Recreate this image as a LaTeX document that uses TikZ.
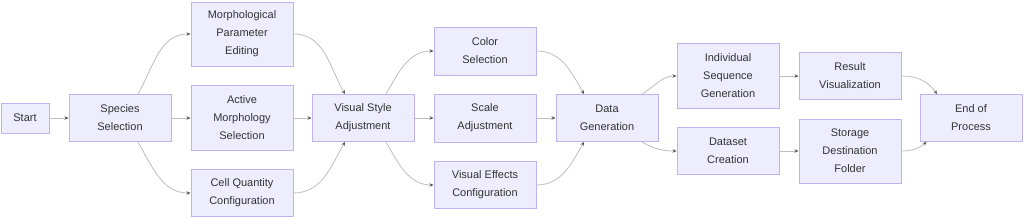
\documentclass[tikz,border=0pt]{standalone}
\usepackage{fontspec}
\setmainfont{Liberation Sans}
\usetikzlibrary{calc, positioning}
\usetikzlibrary{arrows.meta}

\definecolor{boxfill}{HTML}{EEEDFD}
\definecolor{boxline}{HTML}{BFB2EE}
\definecolor{flowline}{HTML}{BDBDBD}
\definecolor{tipcol}{HTML}{555555}
\definecolor{txtcol}{HTML}{333333}

\tikzset{
  stage/.style={draw=boxline, fill=boxfill, line width=0.9pt, text=txtcol,
    minimum width=102pt, align=center, inner sep=0pt,
    font=\fontsize{11}{18}\selectfont},
  flow/.style={draw=flowline, line width=0.8pt,
    -{Stealth[length=4pt,width=3.5pt,color=tipcol]}},
}

\begin{document}
\begin{tikzpicture}[x=1pt,y=-1pt]
\useasboundingbox (0,0) rectangle (1024,219);
% nodes
\node[stage, minimum width=48pt, minimum height=30pt] (start) at (25,118) {Start};
\node[stage, minimum height=47pt] (species) at (120,118) {Species\\Selection};
\node[stage, minimum height=64pt] (morph) at (242,34) {Morphological\\Parameter\\Editing};
\node[stage, minimum height=65pt] (active) at (242,118) {Active\\Morphology\\Selection};
\node[stage, minimum height=47pt] (cells) at (242,193) {Cell Quantity\\Configuration};
\node[stage, minimum height=47pt] (style) at (363,118) {Visual Style\\Adjustment};
\node[stage, minimum height=48pt] (color) at (485,51) {Color\\Selection};
\node[stage, minimum height=48pt] (scale) at (485,118) {Scale\\Adjustment};
\node[stage, minimum height=47pt] (effects) at (485,185) {Visual Effects\\Configuration};
\node[stage, minimum height=47pt] (data) at (607,118) {Data\\Generation};
\node[stage, minimum height=65pt] (single) at (728,76) {Individual\\Sequence\\Generation};
\node[stage, minimum height=47pt] (dataset) at (728,151) {Dataset\\Creation};
\node[stage, minimum height=47pt] (result) at (850,76) {Result\\Visualization};
\node[stage, minimum height=64pt] (storage) at (850,151) {Storage\\Destination\\Folder};
\node[stage, minimum height=47pt] (finish) at (971,118) {End of\\Process};
% connectors
\draw[flow] (start) -- (species);
\draw[flow] ($(species.north)+(18,0)$) to[out=60,in=180] (morph.west);
\draw[flow] (species) -- (active);
\draw[flow] ($(species.south)+(18,0)$) to[out=-60,in=180] (cells.west);
\draw[flow] (morph.east) to[out=0,in=120] ($(style.north)+(-18,0)$);
\draw[flow] (active) -- (style);
\draw[flow] (cells.east) to[out=0,in=-120] ($(style.south)+(-18,0)$);
\draw[flow] ($(style.north)+(23,0)$) to[out=60,in=180] (color.west);
\draw[flow] (style) -- (scale);
\draw[flow] ($(style.south)+(23,0)$) to[out=-60,in=180] (effects.west);
\draw[flow] (color.east) to[out=0,in=120] ($(data.north)+(-23,0)$);
\draw[flow] (scale) -- (data);
\draw[flow] (effects.east) to[out=0,in=-120] ($(data.south)+(-23,0)$);
\draw[flow] ($(data.north)+(35,0)$) to[out=30,in=180] (single.west);
\draw[flow] ($(data.south)+(35,0)$) to[out=-30,in=180] (dataset.west);
\draw[flow] (single) -- (result);
\draw[flow] (dataset) -- (storage);
\draw[flow] (result.east) to[out=0,in=125] ($(finish.north)+(-34,0)$);
\draw[flow] (storage.east) to[out=0,in=-140] ($(finish.south west)+(7,0)$);
\end{tikzpicture}
\end{document}
